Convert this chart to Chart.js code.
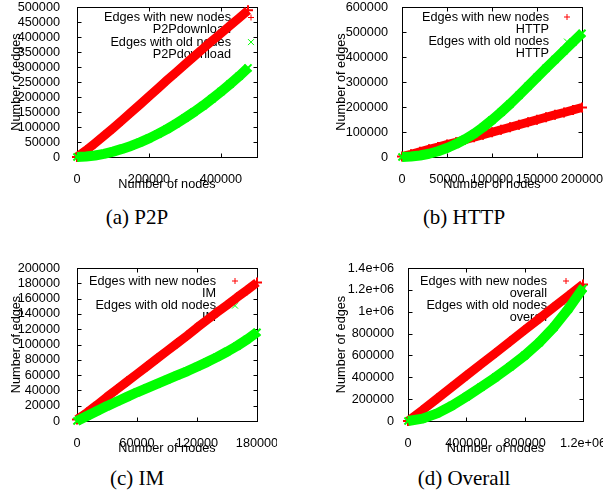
<!DOCTYPE html>
<html>
<head>
<meta charset="utf-8">
<script src="https://cdn.jsdelivr.net/npm/chart.js@4.4.1/dist/chart.umd.min.js"></script>
<style>
  html, body { margin: 0; padding: 0; background: #fff; }
  #fig { position: relative; width: 603px; height: 493px; overflow: hidden; background: #fff; }
  .panel { position: absolute; overflow: hidden; }
  .panel canvas { display: block; }
  .caption {
    position: absolute; white-space: nowrap; color: #000;
    font-family: "Liberation Serif", "Times New Roman", serif;
    font-size: 21px; line-height: 22px; transform: translateX(-50%);
  }
</style>
</head>
<body>
<div id="fig">
  <div class="panel" style="left:0;top:0;width:277px;height:200px"><canvas id="chartP2P" width="277" height="200"></canvas></div>
  <div class="panel" style="left:326px;top:0;width:277px;height:200px"><canvas id="chartHTTP" width="277" height="200"></canvas></div>
  <div class="panel" style="left:0;top:250px;width:277px;height:215px"><canvas id="chartIM" width="277" height="215"></canvas></div>
  <div class="panel" style="left:326px;top:250px;width:277px;height:215px"><canvas id="chartAll" width="277" height="215"></canvas></div>
  <div class="caption" style="left:137px;top:206px">(a) P2P</div>
  <div class="caption" style="left:464px;top:206px">(b) HTTP</div>
  <div class="caption" style="left:137px;top:467px">(c) IM</div>
  <div class="caption" style="left:464px;top:467px">(d) Overall</div>
</div>
<script>
// ---- P2Pdownload trace ----
const p2pNodes    = [0, 25000, 50000, 75000, 100000, 125000, 150000, 175000, 200000, 225000,
                     250000, 275000, 300000, 325000, 350000, 375000, 400000, 425000, 450000, 475000];
const p2pEdgesNew = [0, 22000, 46000, 71000, 96000, 122000, 149000, 175000, 202000, 229000,
                     256000, 282000, 309000, 335000, 361000, 387000, 412000, 438000, 463000, 489000];
const p2pEdgesOld = [0, 1500, 5000, 10500, 18000, 27000, 37000, 49000, 62000, 77000,
                     93000, 111000, 130000, 150000, 171000, 194000, 218000, 243000, 269000, 297000];
const p2pXTicks = [0, 200000, 400000];
const p2pYTicks = [0, 50000, 100000, 150000, 200000, 250000, 300000, 350000, 400000, 450000, 500000];

// ---- HTTP trace ----
const httpNodes    = [0, 10000, 20000, 30000, 40000, 50000, 60000, 70000, 80000, 90000, 100000,
                      110000, 120000, 130000, 140000, 150000, 160000, 170000, 180000, 190000, 200000];
const httpEdgesNew = [2000, 11000, 21000, 31000, 40000, 50000, 59000, 69000, 79000, 89000, 99000,
                      109000, 119000, 129000, 139000, 149000, 159000, 169000, 178000, 188000, 198000];
const httpEdgesOld = [0, 2000, 6000, 13000, 23000, 36000, 52000, 71000, 93000, 119000, 148000,
                      179000, 212000, 247000, 283000, 319000, 355000, 390000, 425000, 460000, 495000];
const httpXTicks = [0, 50000, 100000, 150000, 200000];
const httpYTicks = [0, 100000, 200000, 300000, 400000, 500000, 600000];

// ---- IM trace ----
const imNodes    = [0, 10000, 20000, 30000, 40000, 50000, 60000, 70000, 80000, 90000,
                    100000, 110000, 120000, 130000, 140000, 150000, 160000, 170000, 180000];
const imEdgesNew = [2000, 11000, 21000, 31500, 41500, 51500, 61500, 71500, 81500, 91500,
                    101500, 111500, 122000, 132000, 142000, 151500, 161500, 171000, 181000];
const imEdgesOld = [0, 6500, 13000, 19500, 25500, 31500, 37500, 43000, 48500, 54000,
                    59500, 65000, 71000, 77000, 83500, 90500, 98000, 106500, 116000];
const imXTicks = [0, 60000, 120000, 180000];
const imYTicks = [0, 20000, 40000, 60000, 80000, 100000, 120000, 140000, 160000, 180000, 200000];

// ---- overall trace ----
const allNodes    = [0, 100000, 200000, 300000, 400000, 500000, 600000,
                     700000, 800000, 900000, 1000000, 1100000, 1200000];
const allEdgesNew = [0, 100000, 205000, 310000, 415000, 520000, 622000,
                     727000, 832000, 937000, 1042000, 1146000, 1250000];
const allEdgesOld = [0, 22000, 70000, 140000, 222000, 310000, 400000,
                     497000, 600000, 718000, 858000, 1025000, 1215000];
const allXTicks = [0, 400000, 800000, 1200000];
const allYTicks = [0, 200000, 400000, 600000, 800000, 1000000, 1200000, 1400000];

const RED = '#ff0000';
const GREEN = '#00ff00';
const FAMILY = '"Liberation Sans", Arial, Helvetica, sans-serif';
const FONT_SIZE = 12.7;

// gnuplot-style %g numbers: 1e+06, 1.2e+06
function gfmt(v) {
  if (v === 0) return '0';
  if (Math.abs(v) < 1e6) return String(Math.round(v));
  return v.toExponential().replace(/e([+-])(\d)$/, 'e$10$2');
}

// Frame with inward ticks on all four sides, plus the key (drawn beneath the data)
const gnuFrame = {
  id: 'gnuFrame',
  beforeDatasetsDraw(chart, args, opts) {
    const { ctx, chartArea: a, scales: { x, y } } = chart;
    const L = 4;
    ctx.save();
    ctx.strokeStyle = '#000';
    ctx.lineWidth = 1;
    const l = Math.round(a.left) + 0.5, r = Math.round(a.right) + 0.5;
    const t = Math.round(a.top) + 0.5, b = Math.round(a.bottom) + 0.5;
    ctx.strokeRect(l, t, r - l, b - t);
    ctx.beginPath();
    x.ticks.forEach(tk => {
      const px = Math.round(x.getPixelForValue(tk.value)) + 0.5;
      ctx.moveTo(px, b); ctx.lineTo(px, b - L);
      ctx.moveTo(px, t); ctx.lineTo(px, t + L);
    });
    y.ticks.forEach(tk => {
      const py = Math.round(y.getPixelForValue(tk.value)) + 0.5;
      ctx.moveTo(l, py); ctx.lineTo(l + L, py);
      ctx.moveTo(r, py); ctx.lineTo(r - L, py);
    });
    ctx.stroke();

    // key
    const k = opts.key;
    if (k) {
      ctx.font = FONT_SIZE + 'px ' + FAMILY;
      ctx.fillStyle = '#000';
      ctx.textAlign = 'right';
      ctx.textBaseline = 'middle';
      const step = 12.3;
      const lines = ['Edges with new nodes', k.trace, 'Edges with old nodes', k.trace];
      lines.forEach((s, i) => ctx.fillText(s, k.textRight, k.y0 + i * step));
      const s = 3;
      ctx.lineWidth = 1;
      // red plus
      ctx.strokeStyle = RED;
      ctx.beginPath();
      ctx.moveTo(k.markerX - s, k.y0); ctx.lineTo(k.markerX + s, k.y0);
      ctx.moveTo(k.markerX, k.y0 - s); ctx.lineTo(k.markerX, k.y0 + s);
      ctx.stroke();
      // green cross
      const gy = k.y0 + 2 * step;
      ctx.strokeStyle = GREEN;
      ctx.beginPath();
      ctx.moveTo(k.markerX - s, gy - s); ctx.lineTo(k.markerX + s, gy + s);
      ctx.moveTo(k.markerX - s, gy + s); ctx.lineTo(k.markerX + s, gy - s);
      ctx.stroke();
    }
    ctx.restore();
  }
};

function series(label, xs, ys, color, style, width, order) {
  return {
    label,
    data: xs.map((v, i) => ({ x: v, y: ys[i] })),
    showLine: true,
    borderColor: color,
    backgroundColor: color,
    borderWidth: width,
    borderJoinStyle: 'round',
    pointStyle: style,
    pointRadius: 5,
    pointBorderWidth: 2,
    pointBorderColor: color,
    pointBackgroundColor: color,
    clip: false,
    order
  };
}

function panel(id, p) {
  const canvas = document.getElementById(id);
  const W = canvas.width, H = canvas.height;
  const lh = FONT_SIZE * 1.2;
  const xAxisH = p.xTitleOffset + lh / 2;
  const font = { family: FAMILY, size: FONT_SIZE };
  return new Chart(canvas, {
    type: 'scatter',
    data: {
      datasets: [
        series('Edges with new nodes ' + p.trace, p.nodes, p.edgesNew, RED, 'cross', 9, 2),
        series('Edges with old nodes ' + p.trace, p.nodes, p.edgesOld, GREEN, 'crossRot', 10, 1)
      ]
    },
    options: {
      responsive: false,
      animation: false,
      events: [],
      layout: {
        padding: {
          left: 0,
          top: p.plot.top,
          right: W - p.plot.right,
          bottom: H - p.plot.bottom - xAxisH
        }
      },
      plugins: {
        legend: { display: false },
        tooltip: { enabled: false },
        gnuFrame: { key: { trace: p.trace, textRight: p.keyTextRight, markerX: p.keyMarkerX, y0: p.keyY0 } }
      },
      scales: {
        x: {
          type: 'linear',
          position: 'bottom',
          min: 0,
          max: p.xMax,
          grid: { display: false },
          border: { display: false },
          ticks: { font, color: '#000', padding: 6.4, maxRotation: 0, autoSkip: false, callback: v => gfmt(v) },
          title: { display: true, text: 'Number of nodes', font, color: '#000', padding: 0 },
          afterBuildTicks: s => { s.ticks = p.xTicks.map(v => ({ value: v })); },
          afterFit: s => {
            s.height = xAxisH;
            s.paddingLeft = s.paddingRight = s.paddingTop = s.paddingBottom = 0;
          }
        },
        y: {
          type: 'linear',
          position: 'left',
          min: 0,
          max: p.yMax,
          grid: { display: false },
          border: { display: false },
          ticks: { font, color: '#000', padding: p.yLabelGap, autoSkip: false, callback: v => gfmt(v) },
          title: { display: true, text: 'Number of edges', font, color: '#000', padding: { top: p.yTitleX - lh / 2, bottom: 0 } },
          afterBuildTicks: s => { s.ticks = p.yTicks.map(v => ({ value: v })); },
          afterFit: s => {
            s.width = p.plot.left;
            s.paddingLeft = s.paddingRight = s.paddingTop = s.paddingBottom = 0;
          }
        }
      }
    },
    plugins: [gnuFrame]
  });
}

panel('chartP2P', {
  trace: 'P2Pdownload', nodes: p2pNodes, edgesNew: p2pEdgesNew, edgesOld: p2pEdgesOld,
  xTicks: p2pXTicks, yTicks: p2pYTicks, xMax: 500000, yMax: 500000,
  plot: { left: 77, right: 257, top: 5, bottom: 157 },
  xTitleOffset: 27, yTitleX: 16, yLabelGap: 9,
  keyTextRight: 231, keyMarkerX: 251, keyY0: 17.5
});
panel('chartHTTP', {
  trace: 'HTTP', nodes: httpNodes, edgesNew: httpEdgesNew, edgesOld: httpEdgesOld,
  xTicks: httpXTicks, yTicks: httpYTicks, xMax: 200000, yMax: 600000,
  plot: { left: 76, right: 256, top: 5, bottom: 157 },
  xTitleOffset: 27, yTitleX: 15, yLabelGap: 6,
  keyTextRight: 223, keyMarkerX: 241, keyY0: 17
});
panel('chartIM', {
  trace: 'IM', nodes: imNodes, edgesNew: imEdgesNew, edgesOld: imEdgesOld,
  xTicks: imXTicks, yTicks: imYTicks, xMax: 180000, yMax: 200000,
  plot: { left: 77, right: 257, top: 18, bottom: 171 },
  xTitleOffset: 27, yTitleX: 16, yLabelGap: 9,
  keyTextRight: 216, keyMarkerX: 235, keyY0: 31
});
panel('chartAll', {
  trace: 'overall', nodes: allNodes, edgesNew: allEdgesNew, edgesOld: allEdgesOld,
  xTicks: allXTicks, yTicks: allYTicks, xMax: 1200000, yMax: 1400000,
  plot: { left: 82, right: 257, top: 18, bottom: 171 },
  xTitleOffset: 27, yTitleX: 15, yLabelGap: 6,
  keyTextRight: 221, keyMarkerX: 240, keyY0: 31
});
</script>
</body>
</html>
